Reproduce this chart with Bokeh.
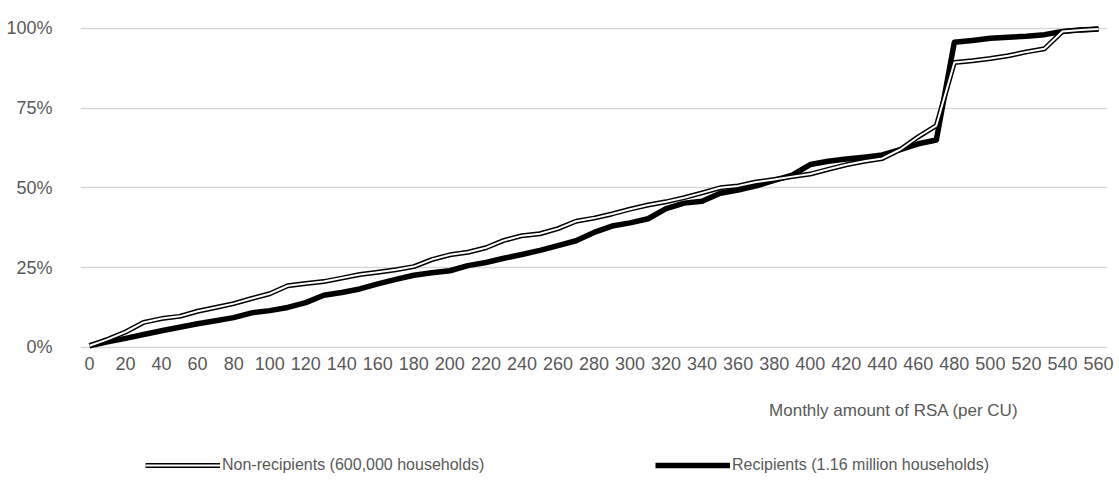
from bokeh.plotting import figure
from bokeh.layouts import column
from bokeh.models import Range1d, FixedTicker, Legend, LegendItem, Title
from bokeh.embed import file_html
from bokeh.resources import INLINE

amounts = list(range(0, 561, 10))
non_recipients = [0.5, 2.5, 4.8, 7.8, 9.0, 9.7, 11.3, 12.5, 13.7, 15.3,
                  16.8, 19.3, 20.0, 20.6, 21.7, 22.8, 23.5, 24.3, 25.3, 27.5,
                  29.0, 29.8, 31.2, 33.5, 35.0, 35.6, 37.2, 39.5, 40.5, 41.8,
                  43.3, 44.6, 45.6, 46.9, 48.4, 50.0, 50.6, 51.8, 52.6, 53.5,
                  54.3, 55.8, 57.2, 58.3, 59.2, 62.0, 66.0, 69.5, 89.3, 89.8,
                  90.5, 91.4, 92.6, 93.6, 99.0, 99.5, 99.8]
recipients = [0.5, 1.7, 2.8, 4.0, 5.2, 6.3, 7.4, 8.3, 9.3, 10.8,
              11.5, 12.5, 14.0, 16.3, 17.2, 18.3, 19.9, 21.3, 22.6, 23.4,
              24.0, 25.6, 26.6, 27.9, 29.1, 30.4, 31.9, 33.4, 36.0, 38.0,
              39.0, 40.3, 43.5, 45.2, 45.8, 48.3, 49.3, 50.6, 52.3, 54.0,
              57.3, 58.3, 59.0, 59.6, 60.3, 62.0, 63.8, 65.0, 95.6, 96.2,
              96.9, 97.2, 97.5, 98.0, 99.0, 99.5, 99.8]
x_ticks = list(range(0, 561, 20))
y_ticks = [0, 25, 50, 75, 100]
y_tick_labels = ["0%", "25%", "50%", "75%", "100%"]
label_nr = "Non-recipients (600,000 households)"
label_r = "Recipients (1.16 million households)"
x_title = "Monthly amount of RSA (per CU)"

FONT = "Liberation Sans"
GREY = "#595959"

p = figure(width=1119, height=445, output_backend="svg", toolbar_location=None,
           x_range=Range1d(-5, 565), y_range=Range1d(-1, 101.5),
           min_border_left=80, min_border_right=12, min_border_top=23,
           min_border_bottom=94)
p.outline_line_color = None
p.background_fill_color = "white"

r_line = p.line(amounts, recipients, line_color="black", line_width=5.5, line_join="round")
nr_outer = p.line(amounts, non_recipients, line_color="black", line_width=5, line_join="round")
nr_inner = p.line(amounts, non_recipients, line_color="white", line_width=2, line_join="round")

p.xgrid.visible = False
p.ygrid.ticker = FixedTicker(ticks=y_ticks)
p.ygrid.grid_line_color = "#d9d9d9"
p.ygrid.grid_line_width = 1.5

p.yaxis.ticker = FixedTicker(ticks=y_ticks)
p.yaxis.major_label_overrides = {t: l for t, l in zip(y_ticks, y_tick_labels)}
p.xaxis.ticker = FixedTicker(ticks=x_ticks)
for ax in (p.xaxis, p.yaxis):
    ax.axis_line_color = None
    ax.major_tick_line_color = None
    ax.minor_tick_line_color = None
    ax.major_label_text_font = FONT
    ax.major_label_text_font_size = "18px"
    ax.major_label_text_color = GREY
p.yaxis.major_label_standoff = 22
p.xaxis.major_label_standoff = 0

title_below = Title(text=x_title, align="right", offset=89, standoff=52,
                    text_font=FONT, text_font_size="17px",
                    text_font_style="normal", text_color=GREY)
p.add_layout(title_below, "below")

# legend strip under the chart (its ranges keep the copied lines out of view)
lg = figure(width=1119, height=45, output_backend="svg", toolbar_location=None,
            x_range=Range1d(-20, -10), y_range=Range1d(-20, -10),
            x_axis_type=None, y_axis_type=None,
            min_border_left=0, min_border_right=0, min_border_top=0,
            min_border_bottom=0)
lg.outline_line_color = None
lg.xgrid.visible = False
lg.ygrid.visible = False
lg_r = lg.line(amounts, recipients, line_color="black", line_width=5.5)
lg_nr_outer = lg.line(amounts, non_recipients, line_color="black", line_width=5)
lg_nr_inner = lg.line(amounts, non_recipients, line_color="white", line_width=2)

legend = Legend(items=[LegendItem(label=label_nr, renderers=[lg_nr_outer, lg_nr_inner]),
                       LegendItem(label=label_r, renderers=[lg_r])],
                orientation="horizontal", location=(65, 15),
                glyph_width=75, glyph_height=20, label_standoff=2, spacing=130,
                label_width=303, padding=0, margin=0, border_line_color=None,
                background_fill_alpha=0, label_text_font=FONT,
                label_text_font_size="16px", label_text_color=GREY)
lg.add_layout(legend, "center")

layout = column(p, lg, spacing=0)
open("out.html", "w").write(file_html(layout, INLINE))
